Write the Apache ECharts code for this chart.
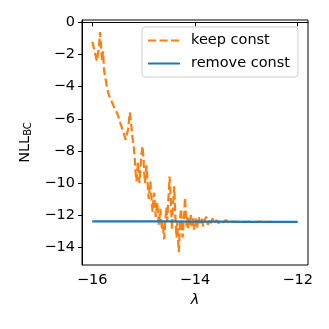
<!DOCTYPE html>
<html>
<head>
<meta charset="utf-8">
<script src="https://cdn.jsdelivr.net/npm/echarts@6/dist/echarts.min.js"></script>
<style>
  html, body { margin: 0; padding: 0; background: #fff; }
  #chart { width: 329px; height: 329px; }
</style>
</head>
<body>
<div id="chart"></div>
<script>
(() => {
    'use strict'

    // keep const: noisy curve
    const lambdaKeep = [
        -16.00, -15.97, -15.94, -15.91, -15.89, -15.87, -15.85, -15.83, -15.81, -15.79,
        -15.77, -15.72, -15.68, -15.60, -15.51, -15.45, -15.40, -15.35, -15.30, -15.27,
        -15.24, -15.22, -15.19, -15.17, -15.155, -15.14, -15.125, -15.11, -15.095, -15.08,
        -15.065, -15.05, -15.035, -15.02, -15.005, -14.99, -14.975, -14.96, -14.945, -14.93,
        -14.915, -14.90, -14.885, -14.87, -14.855, -14.84, -14.825, -14.81, -14.795, -14.78,
        -14.765, -14.75, -14.735, -14.72, -14.705, -14.69, -14.675, -14.66, -14.645, -14.63,
        -14.615, -14.60, -14.585, -14.57, -14.555, -14.54, -14.525, -14.51, -14.495, -14.48,
        -14.465, -14.45, -14.435, -14.42, -14.405, -14.39, -14.375, -14.36, -14.345, -14.33,
        -14.315, -14.30, -14.285, -14.27, -14.255, -14.24, -14.225, -14.21, -14.195, -14.18,
        -14.165, -14.15, -14.135, -14.12, -14.10, -14.08, -14.06, -14.04, -14.02, -13.99,
        -13.96, -13.93, -13.90, -13.87, -13.84, -13.81, -13.78, -13.75, -13.72, -13.69,
        -13.66, -13.62, -13.58, -13.54, -13.50, -13.45, -13.40, -13.35, -13.30, -13.20,
        -13.10, -13.00, -12.90, -12.80, -12.70, -12.60, -12.50
    ]
    const nllKeep = [
        -1.2, -1.6, -2.0, -2.4, -2.3, -1.5, -0.6, -1.4, -2.4, -1.8,
        -3.0, -3.9, -4.5, -5.1, -5.7, -6.3, -6.8, -7.3, -6.6, -5.6,
        -6.4, -7.1, -7.8, -8.6, -9.4, -9.9, -9.3, -8.7, -9.6, -10.0,
        -9.2, -8.5, -8.0, -7.7, -8.4, -9.3, -10.0, -9.5, -8.9, -9.6,
        -10.4, -11.0, -10.3, -9.9, -10.6, -11.3, -11.8, -11.0, -10.6, -11.4,
        -12.1, -11.6, -11.2, -11.9, -12.6, -12.1, -11.6, -12.3, -12.9, -12.4,
        -13.0, -13.5, -12.7, -12.0, -11.5, -12.4, -11.3, -10.6, -9.6, -10.4,
        -11.6, -12.9, -11.8, -10.9, -10.2, -11.5, -12.6, -13.4, -12.4, -13.6,
        -14.3, -13.2, -12.0, -11.6, -12.8, -13.4, -12.5, -11.9, -10.9, -11.8,
        -12.7, -12.1, -12.8, -12.2, -12.6, -12.0, -12.7, -12.2, -12.9, -12.2,
        -12.8, -12.1, -12.5, -12.2, -12.7, -12.3, -12.1, -12.6, -12.3, -12.5,
        -12.2, -12.5, -12.3, -12.5, -12.35, -12.45, -12.3, -12.45, -12.4, -12.42,
        -12.38, -12.42, -12.4, -12.42, -12.4, -12.42, -12.41
    ]

    // remove const: flat line
    const lambdaRemove = [-16, -15.5, -15, -14.5, -14, -13.5, -13, -12.5, -12]
    const nllRemove = [-12.38, -12.38, -12.39, -12.39, -12.40, -12.40, -12.41, -12.41, -12.42]

    const xTicks = [-16, -14, -12]
    const yTicks = [0, -2, -4, -6, -8, -10, -12, -14]

    const font = 'DejaVu Sans'
    const minus = v => (v < 0 ? '\u2212' + Math.abs(v) : String(v))
    const zip = (xs, ys) => xs.map((x, i) => [x, ys[i]])

    const axisCommon = {
        type: 'value',
        splitLine: {show: false},
        axisLine: {show: true, lineStyle: {color: '#000', width: 1}},
        axisTick: {show: true, inside: false, length: 4, lineStyle: {color: '#000', width: 1}},
    }

    const options = {
        animation: false,
        backgroundColor: '#fff',
        textStyle: {fontFamily: font},
        grid: {
            left: 82, right: 21, top: 20, bottom: 64,
            show: true, borderColor: '#000', borderWidth: 1,
            backgroundColor: 'rgba(0,0,0,0)'
        },
        legend: {
            orient: 'vertical',
            left: 142, top: 27,
            padding: [6, 8, 6, 5],
            itemGap: 8,
            itemWidth: 32,
            itemHeight: 14,
            backgroundColor: 'rgba(255,255,255,0.8)',
            borderColor: '#cccccc',
            borderWidth: 1,
            borderRadius: 3,
            itemStyle: {opacity: 0},
            textStyle: {fontFamily: font, fontSize: 14.5, color: '#000', padding: [0, 0, 0, 6]},
            data: ['keep const', 'remove const']
        },
        xAxis: Object.assign({}, axisCommon, {
            min: -16.2, max: -11.8,
            name: '\u03bb',
            nameLocation: 'middle',
            nameGap: 26,
            nameTextStyle: {fontFamily: font, fontSize: 14.5, fontStyle: 'italic', color: '#000'},
            axisTick: Object.assign({}, axisCommon.axisTick, {customValues: xTicks}),
            axisLabel: {
                customValues: xTicks, margin: 8,
                fontFamily: font, fontSize: 14.5, color: '#000',
                formatter: minus
            }
        }),
        yAxis: Object.assign({}, axisCommon, {
            min: -15.1, max: 0.15,
            name: '{a|NLL}{b|BC}',
            nameLocation: 'middle',
            nameRotate: 90,
            nameGap: 48,
            nameTextStyle: {
                color: '#000',
                rich: {
                    a: {fontFamily: font, fontSize: 14.5, color: '#000'},
                    b: {fontFamily: font, fontSize: 10, color: '#000', verticalAlign: 'bottom', padding: [6, 0, 0, 0]}
                }
            },
            axisTick: Object.assign({}, axisCommon.axisTick, {customValues: yTicks}),
            axisLabel: {
                customValues: yTicks, margin: 7,
                fontFamily: font, fontSize: 14.5, color: '#000',
                formatter: minus
            }
        }),
        series: [
            {
                name: 'keep const',
                type: 'line',
                symbol: 'none',
                color: '#ff7f0e',
                lineStyle: {color: '#ff7f0e', width: 2.2, type: [8, 3.5]},
                data: zip(lambdaKeep, nllKeep)
            },
            {
                name: 'remove const',
                type: 'line',
                symbol: 'none',
                color: '#1f77b4',
                lineStyle: {color: '#1f77b4', width: 2.2},
                data: zip(lambdaRemove, nllRemove)
            }
        ]
    }

    const chart = echarts.init(document.getElementById('chart'), null, {renderer: 'canvas'})
    chart.setOption(options)
})()
</script>
</body>
</html>
